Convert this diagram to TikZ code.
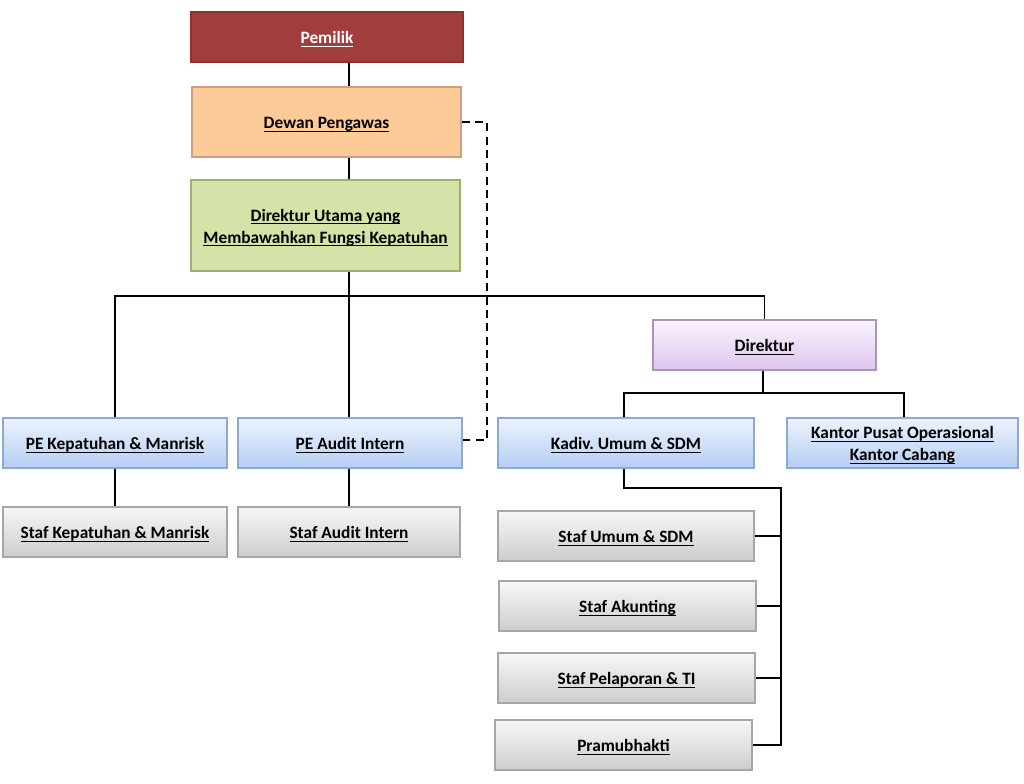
\documentclass[tikz,border=0pt]{standalone}
\usepackage{fontspec}
\setmainfont{Carlito}
\usetikzlibrary{calc}
\newcommand\ulx[1]{\setbox0\hbox{#1}\leavevmode\rlap{\smash{\rule[-2.2pt]{\wd0}{0.7pt}}}\box0\vphantom{Ag}\rule{0pt}{12.6pt}}
\definecolor{redfill}{HTML}{A03D3D}
\definecolor{redline}{HTML}{8C3030}
\definecolor{peach}{HTML}{FCCB98}
\definecolor{peachline}{HTML}{C8A27E}
\definecolor{greenfill}{HTML}{D4E3A8}
\definecolor{greenline}{HTML}{9DAF6E}
\definecolor{blueTop}{HTML}{EDF3FD}
\definecolor{blueBot}{HTML}{B5CEF3}
\definecolor{blueline}{HTML}{8FA9D3}
\definecolor{grayTop}{HTML}{F7F7F7}
\definecolor{grayBot}{HTML}{CDCDCD}
\definecolor{grayline}{HTML}{A6A6A6}
\definecolor{lavTop}{HTML}{FAF4FD}
\definecolor{lavBot}{HTML}{DDC6EE}
\definecolor{lavline}{HTML}{A895B8}
\tikzset{
  orgbox/.style={rectangle, line width=0.8pt, align=center, inner sep=0pt,
    font=\fontsize{13}{16.5}\selectfont\bfseries\frenchspacing, minimum height=37.5pt},
  redbox/.style={orgbox, fill=redfill, draw=redline, text=white},
  peachbox/.style={orgbox, fill=peach, draw=peachline},
  greenbox/.style={orgbox, fill=greenfill, draw=greenline},
  bluebox/.style={orgbox, top color=blueTop, bottom color=blueBot, draw=blueline},
  graybox/.style={orgbox, top color=grayTop, bottom color=grayBot, draw=grayline},
  lavbox/.style={orgbox, top color=lavTop, bottom color=lavBot, draw=lavline},
  conn/.style={line width=1pt, black},
  dconn/.style={line width=1pt, black, dash pattern=on 6pt off 4pt},
}
\begin{document}
\begin{tikzpicture}[x=0.75pt,y=-0.75pt]
\useasboundingbox (0,0) rectangle (1024,784);

\node[redbox, minimum width=204pt] (pemilik) at (327,37) {\ulx{Pemilik}};
\node[peachbox, minimum width=201.75pt, minimum height=52.5pt] (dewan) at (326.5,122) {\ulx{Dewan Pengawas}};
\node[greenbox, minimum width=201.75pt, minimum height=68.25pt] (dirut) at (325.5,225.5) {\ulx{Direktur Utama yang}\\\ulx{Membawahkan Fungsi Kepatuhan}};
\node[lavbox, minimum width=167.25pt] (direktur) at (764.5,345) {\ulx{Direktur}};

\node[bluebox, minimum width=168pt] (pekep) at (115,443) {\ulx{PE Kepatuhan \& Manrisk}};
\node[bluebox, minimum width=168pt] (peaudit) at (350,443) {\ulx{PE Audit Intern}};
\node[bluebox, minimum width=192pt] (kadiv) at (626,443) {\ulx{Kadiv. Umum \& SDM}};
\node[bluebox, minimum width=173.25pt] (kantor) at (902.5,443) {\ulx{Kantor Pusat Operasional}\\\ulx{Kantor Cabang}};

\node[graybox, minimum width=168pt] (stafkep) at (115,532) {\ulx{Staf Kepatuhan \& Manrisk}};
\node[graybox, minimum width=166.5pt] (stafaudit) at (349,532) {\ulx{Staf Audit Intern}};
\node[graybox, minimum width=192pt] (stafumum) at (626,536) {\ulx{Staf Umum \& SDM}};
\node[graybox, minimum width=192.75pt] (akunting) at (627.5,606) {\ulx{Staf Akunting}};
\node[graybox, minimum width=192.75pt] (pelaporan) at (626.5,678) {\ulx{Staf Pelaporan \& TI}};
\node[graybox, minimum width=192.75pt] (pramu) at (623.5,745) {\ulx{Pramubhakti}};

\coordinate (spine) at (349,296);
\coordinate (dbus) at (763,393);
\coordinate (rail) at (781,488);
\coordinate (dashx) at (487,440);
\coordinate (kx) at (624,0);
\coordinate (kantx) at (904,0);

\draw[conn] (pemilik.south -| spine) -- (dewan.north -| spine);
\draw[conn] (dewan.south -| spine) -- (dirut.north -| spine);
\draw[conn] (dirut.south -| spine) -- (spine);
\draw[conn] (pekep.north) |- (spine) -| (direktur.north);
\draw[conn] (spine) -- (peaudit.north -| spine);
\draw[conn] (pekep.south) -- (stafkep.north);
\draw[conn] (peaudit.south -| spine) -- (stafaudit.north -| spine);

\draw[conn] (direktur.south -| dbus) -- (dbus);
\draw[conn] (kadiv.north -| kx) |- (dbus) -| (kantor.north -| kantx);

\draw[conn] (kadiv.south -| kx) |- (rail) -- (rail |- pramu.east) -- (pramu.east);
\draw[conn] (stafumum.east) -- (stafumum.east -| rail);
\draw[conn] (akunting.east) -- (akunting.east -| rail);
\draw[conn] (pelaporan.east) -- (pelaporan.east -| rail);

\draw[dconn] (dewan.east) -| (dashx) -- (dashx -| peaudit.east);
\end{tikzpicture}
\end{document}
